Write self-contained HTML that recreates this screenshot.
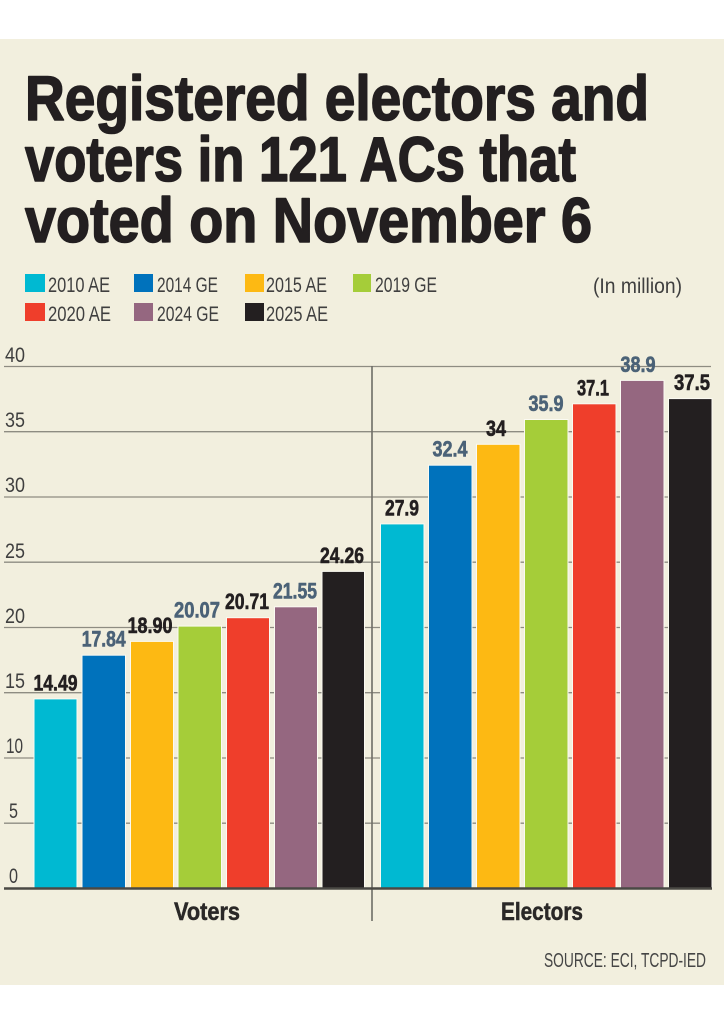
<!DOCTYPE html>
<html>
<head>
<meta charset="utf-8">
<style>
  html,body{margin:0;padding:0;background:#ffffff;}
  body{width:724px;height:1024px;overflow:hidden;}
  svg{display:block;}
  text{font-family:"Liberation Sans",Arial,sans-serif;}
</style>
</head>
<body>
<svg width="724" height="1024" viewBox="0 0 724 1024" xmlns="http://www.w3.org/2000/svg">
  <rect x="0" y="0" width="724" height="1024" fill="#ffffff"/>
  <rect x="0" y="39" width="724" height="946" fill="#f2efde"/>

  <!-- Title -->
  <g fill="#231f20" stroke="#231f20" stroke-width="1.6" stroke-linejoin="round" font-weight="bold" font-size="63">
    <text x="25" y="120" textLength="624" lengthAdjust="spacingAndGlyphs">Registered electors and</text>
    <text x="25" y="181" textLength="551" lengthAdjust="spacingAndGlyphs">voters in 121 ACs that</text>
    <text x="25" y="242" textLength="567" lengthAdjust="spacingAndGlyphs">voted on November 6</text>
  </g>

  <!-- Legend -->
  <g font-size="21" fill="#3f3f3f">
    <rect x="25" y="274" width="20" height="18" fill="#00b9d2"/>
    <text x="48" y="292" textLength="62" lengthAdjust="spacingAndGlyphs">2010 AE</text>
    <rect x="134" y="274" width="19" height="18" fill="#0072bc"/>
    <text x="157" y="292" textLength="61" lengthAdjust="spacingAndGlyphs">2014 GE</text>
    <rect x="245" y="274" width="19" height="18" fill="#fdb913"/>
    <text x="266" y="292" textLength="61" lengthAdjust="spacingAndGlyphs">2015 AE</text>
    <rect x="353" y="274" width="18" height="18" fill="#a5cd39"/>
    <text x="375" y="292" textLength="62" lengthAdjust="spacingAndGlyphs">2019 GE</text>
    <text x="593" y="293" textLength="89" lengthAdjust="spacingAndGlyphs">(In million)</text>

    <rect x="25" y="303" width="20" height="18" fill="#ef3e2b"/>
    <text x="48" y="321" textLength="63" lengthAdjust="spacingAndGlyphs">2020 AE</text>
    <rect x="134" y="303" width="19" height="18" fill="#956780"/>
    <text x="157" y="321" textLength="62" lengthAdjust="spacingAndGlyphs">2024 GE</text>
    <rect x="245" y="303" width="19" height="18" fill="#231f20"/>
    <text x="266" y="321" textLength="62" lengthAdjust="spacingAndGlyphs">2025 AE</text>
  </g>

  <!-- Gridlines -->
  <g stroke="#8e8c82" stroke-width="1.3">
    <line x1="4" y1="366.5" x2="711" y2="366.5"/>
    <line x1="4" y1="431.7" x2="711" y2="431.7"/>
    <line x1="4" y1="497" x2="711" y2="497"/>
    <line x1="4" y1="562.2" x2="711" y2="562.2"/>
    <line x1="4" y1="627.5" x2="711" y2="627.5"/>
    <line x1="4" y1="692.7" x2="711" y2="692.7"/>
    <line x1="4" y1="758" x2="711" y2="758"/>
    <line x1="4" y1="823.2" x2="711" y2="823.2"/>
  </g>

  <!-- Y labels -->
  <g font-size="21" fill="#3f3f3f">
    <text x="5" y="362" textLength="20" lengthAdjust="spacingAndGlyphs">40</text>
    <text x="5" y="427" textLength="20" lengthAdjust="spacingAndGlyphs">35</text>
    <text x="5" y="492" textLength="20" lengthAdjust="spacingAndGlyphs">30</text>
    <text x="5" y="558" textLength="20" lengthAdjust="spacingAndGlyphs">25</text>
    <text x="5" y="623" textLength="20" lengthAdjust="spacingAndGlyphs">20</text>
    <text x="5" y="688" textLength="20" lengthAdjust="spacingAndGlyphs">15</text>
    <text x="6" y="753" textLength="17" lengthAdjust="spacingAndGlyphs">10</text>
    <text x="9" y="818" textLength="9" lengthAdjust="spacingAndGlyphs">5</text>
    <text x="9" y="883" textLength="9" lengthAdjust="spacingAndGlyphs">0</text>
  </g>

  <!-- Bars -->
  <g stroke="#fbfaf2" stroke-width="1">
    <rect x="34" y="698.9" width="43" height="189.1" fill="#00b9d2"/>
    <rect x="82" y="655.2" width="43.5" height="232.8" fill="#0072bc"/>
    <rect x="130.5" y="641.4" width="43" height="246.6" fill="#fdb913"/>
    <rect x="178" y="626.1" width="43.5" height="261.9" fill="#a5cd39"/>
    <rect x="226.5" y="617.7" width="43" height="270.3" fill="#ef3e2b"/>
    <rect x="274.5" y="606.8" width="43" height="281.2" fill="#956780"/>
    <rect x="322" y="571.4" width="42.5" height="316.6" fill="#231f20"/>

    <rect x="380.5" y="523.9" width="43.5" height="364.1" fill="#00b9d2"/>
    <rect x="428.5" y="465.2" width="43.5" height="422.8" fill="#0072bc"/>
    <rect x="476.5" y="444.3" width="43.5" height="443.7" fill="#fdb913"/>
    <rect x="524.5" y="419.5" width="43.5" height="468.5" fill="#a5cd39"/>
    <rect x="572.5" y="403.8" width="43.5" height="484.2" fill="#ef3e2b"/>
    <rect x="620.5" y="380.4" width="43.5" height="507.6" fill="#956780"/>
    <rect x="668.5" y="398.6" width="43.5" height="489.4" fill="#231f20"/>
  </g>

  <!-- Separator & baseline -->
  <line x1="372" y1="366" x2="372" y2="921" stroke="#6e6d66" stroke-width="1.6"/>
  <line x1="4" y1="888.5" x2="712" y2="888.5" stroke="#4a4944" stroke-width="2.4"/>

  <!-- Value labels -->
  <g font-size="22" font-weight="bold" text-anchor="middle" stroke-width="0.6" stroke-linejoin="round">
    <text x="55.5" y="690.5" fill="#231f20" stroke="#231f20" textLength="44" lengthAdjust="spacingAndGlyphs">14.49</text>
    <text x="103.7" y="646.7" fill="#4b6277" stroke="#4b6277" textLength="44" lengthAdjust="spacingAndGlyphs">17.84</text>
    <text x="150" y="633" fill="#231f20" stroke="#231f20" textLength="45" lengthAdjust="spacingAndGlyphs">18.90</text>
    <text x="197" y="617.6" fill="#4b6277" stroke="#4b6277" textLength="46" lengthAdjust="spacingAndGlyphs">20.07</text>
    <text x="247" y="609.2" fill="#231f20" stroke="#231f20" textLength="44" lengthAdjust="spacingAndGlyphs">20.71</text>
    <text x="295" y="598.3" fill="#4b6277" stroke="#4b6277" textLength="44" lengthAdjust="spacingAndGlyphs">21.55</text>
    <text x="342" y="563" fill="#231f20" stroke="#231f20" textLength="44" lengthAdjust="spacingAndGlyphs">24.26</text>

    <text x="402" y="515.4" fill="#231f20" stroke="#231f20" textLength="34" lengthAdjust="spacingAndGlyphs">27.9</text>
    <text x="450" y="456.7" fill="#4b6277" stroke="#4b6277" textLength="35" lengthAdjust="spacingAndGlyphs">32.4</text>
    <text x="496" y="435.8" fill="#231f20" stroke="#231f20" textLength="20" lengthAdjust="spacingAndGlyphs">34</text>
    <text x="546" y="411" fill="#4b6277" stroke="#4b6277" textLength="35" lengthAdjust="spacingAndGlyphs">35.9</text>
    <text x="593" y="395.3" fill="#231f20" stroke="#231f20" textLength="32" lengthAdjust="spacingAndGlyphs">37.1</text>
    <text x="638" y="371.9" fill="#4b6277" stroke="#4b6277" textLength="35" lengthAdjust="spacingAndGlyphs">38.9</text>
    <text x="692" y="390.1" fill="#231f20" stroke="#231f20" textLength="36" lengthAdjust="spacingAndGlyphs">37.5</text>
  </g>

  <!-- Category labels -->
  <g font-size="25" font-weight="bold" fill="#2a2827" stroke="#2a2827" stroke-width="0.5">
    <text x="174" y="920" textLength="66" lengthAdjust="spacingAndGlyphs">Voters</text>
    <text x="501" y="920" textLength="82" lengthAdjust="spacingAndGlyphs">Electors</text>
  </g>

  <!-- Source -->
  <text x="706" y="967" font-size="20" fill="#454545" text-anchor="end" textLength="162" lengthAdjust="spacingAndGlyphs">SOURCE: ECI, TCPD-IED</text>
</svg>
</body>
</html>
